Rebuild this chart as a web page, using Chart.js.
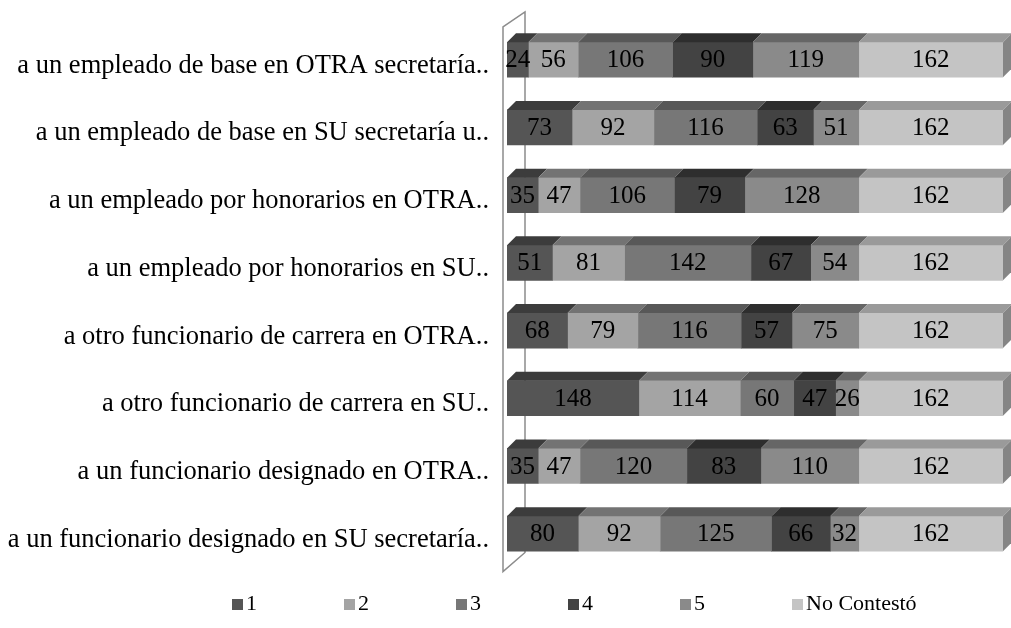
<!DOCTYPE html>
<html>
<head>
<meta charset="utf-8">
<script src="https://cdn.jsdelivr.net/npm/chart.js@4.4.0/dist/chart.umd.min.js"></script>
<style>
  body { margin: 0; background: #fff; }
  #wrap { width: 1011px; height: 628px; }
</style>
</head>
<body>
<div id="wrap"><canvas id="grafica" width="1011" height="628"></canvas></div>
<script>
// categorias (de arriba hacia abajo)
const categorias = [
  'a un empleado de base en OTRA secretaría..',
  'a un empleado de base en SU secretaría u..',
  'a un empleado por honorarios en OTRA..',
  'a un empleado por honorarios en SU..',
  'a otro funcionario de carrera en OTRA..',
  'a otro funcionario de carrera en SU..',
  'a un funcionario designado en OTRA..',
  'a un funcionario designado en SU secretaría..'
];

const serieNombres = ['1', '2', '3', '4', '5', 'No Contestó'];

const valores1 = [24, 73, 35, 51, 68, 148, 35, 80];
const valores2 = [56, 92, 47, 81, 79, 114, 47, 92];
const valores3 = [106, 116, 106, 142, 116, 60, 120, 125];
const valores4 = [90, 63, 79, 67, 57, 47, 83, 66];
const valores5 = [119, 51, 128, 54, 75, 26, 110, 32];
const valoresNC = [162, 162, 162, 162, 162, 162, 162, 162];

// colores: cara frontal y cara superior
const coloresFrente = ['#555555', '#a4a4a4', '#777777', '#434343', '#8a8a8a', '#c4c4c4'];
const coloresArriba = ['#3c3c3c', '#737373', '#585858', '#2e2e2e', '#666666', '#9a9a9a'];
const colorLado = '#858585';

const profX = 9;   // profundidad 3D
const profY = 9;

const fuente = '"Liberation Serif", "Times New Roman", serif';

// pared lateral, caras 3D, valores y leyenda
const efecto3D = {
  id: 'efecto3D',
  beforeDatasetsDraw(chart) {
    const { ctx, chartArea } = chart;
    const x0 = chartArea.left - 4, x1 = chartArea.left + 18;
    ctx.save();
    ctx.strokeStyle = '#8c8c8c';
    ctx.lineWidth = 1.5;
    ctx.beginPath();
    ctx.moveTo(x0, chartArea.top + 1);
    ctx.lineTo(x1, chartArea.top - 14);
    ctx.lineTo(x1, chartArea.bottom - 15);
    ctx.lineTo(x0, chartArea.bottom + 4);
    ctx.closePath();
    ctx.stroke();
    ctx.restore();
  },
  afterDatasetsDraw(chart) {
    const { ctx } = chart;
    const n = chart.data.datasets.length;
    ctx.save();
    chart.data.datasets.forEach((ds, i) => {
      const meta = chart.getDatasetMeta(i);
      meta.data.forEach((bar, j) => {
        const izq = Math.min(bar.base, bar.x);
        const der = Math.max(bar.base, bar.x);
        const arriba = bar.y - bar.height / 2;
        const abajo = bar.y + bar.height / 2;
        // cara superior
        ctx.fillStyle = coloresArriba[i];
        ctx.beginPath();
        ctx.moveTo(izq, arriba);
        ctx.lineTo(der, arriba);
        ctx.lineTo(der + profX, arriba - profY);
        ctx.lineTo(izq + profX, arriba - profY);
        ctx.closePath();
        ctx.fill();
        // cara lateral solo al final
        if (i === n - 1) {
          ctx.fillStyle = colorLado;
          ctx.beginPath();
          ctx.moveTo(der, arriba);
          ctx.lineTo(der + profX, arriba - profY);
          ctx.lineTo(der + profX, abajo - profY);
          ctx.lineTo(der, abajo);
          ctx.closePath();
          ctx.fill();
        }
      });
    });
    // etiquetas de valores
    ctx.fillStyle = '#000';
    ctx.font = '25px ' + fuente;
    ctx.textAlign = 'center';
    ctx.textBaseline = 'middle';
    chart.data.datasets.forEach((ds, i) => {
      const meta = chart.getDatasetMeta(i);
      meta.data.forEach((bar, j) => {
        const cx = (bar.base + bar.x) / 2;
        ctx.fillText(String(ds.data[j]), cx, bar.y + 1);
      });
    });
    ctx.restore();
  },
  afterDraw(chart) {
    // leyenda propia
    const { ctx } = chart;
    const y = 604;
    ctx.save();
    ctx.font = '22px ' + fuente;
    ctx.textAlign = 'left';
    ctx.textBaseline = 'middle';
    serieNombres.forEach((nombre, i) => {
      const x = 232 + i * 112;
      ctx.fillStyle = coloresFrente[i];
      ctx.fillRect(x, y - 5, 11, 11);
      ctx.fillStyle = '#000';
      ctx.fillText(nombre, x + 14, y);
    });
    ctx.restore();
  }
};

const conjuntos = [valores1, valores2, valores3, valores4, valores5, valoresNC].map((vals, i) => ({
  label: serieNombres[i],
  data: vals,
  backgroundColor: coloresFrente[i],
  borderWidth: 0,
  barThickness: 35
}));

new Chart(document.getElementById('grafica'), {
  type: 'bar',
  data: { labels: categorias, datasets: conjuntos },
  options: {
    responsive: false,
    animation: false,
    indexAxis: 'y',
    layout: { padding: { top: 23.5, right: 8, bottom: 60.5, left: 0 } },
    scales: {
      x: {
        stacked: true,
        min: 0,
        max: 557,
        display: false
      },
      y: {
        stacked: true,
        grid: { display: false },
        border: { display: false },
        afterFit(scale) { scale.width = 507; },
        ticks: {
          color: '#000',
          padding: 10,
          labelOffset: 6,
          font: { family: fuente, size: 26.5 }
        }
      }
    },
    plugins: {
      tooltip: { enabled: false },
      legend: { display: false }
    }
  },
  plugins: [efecto3D]
});
</script>
</body>
</html>
